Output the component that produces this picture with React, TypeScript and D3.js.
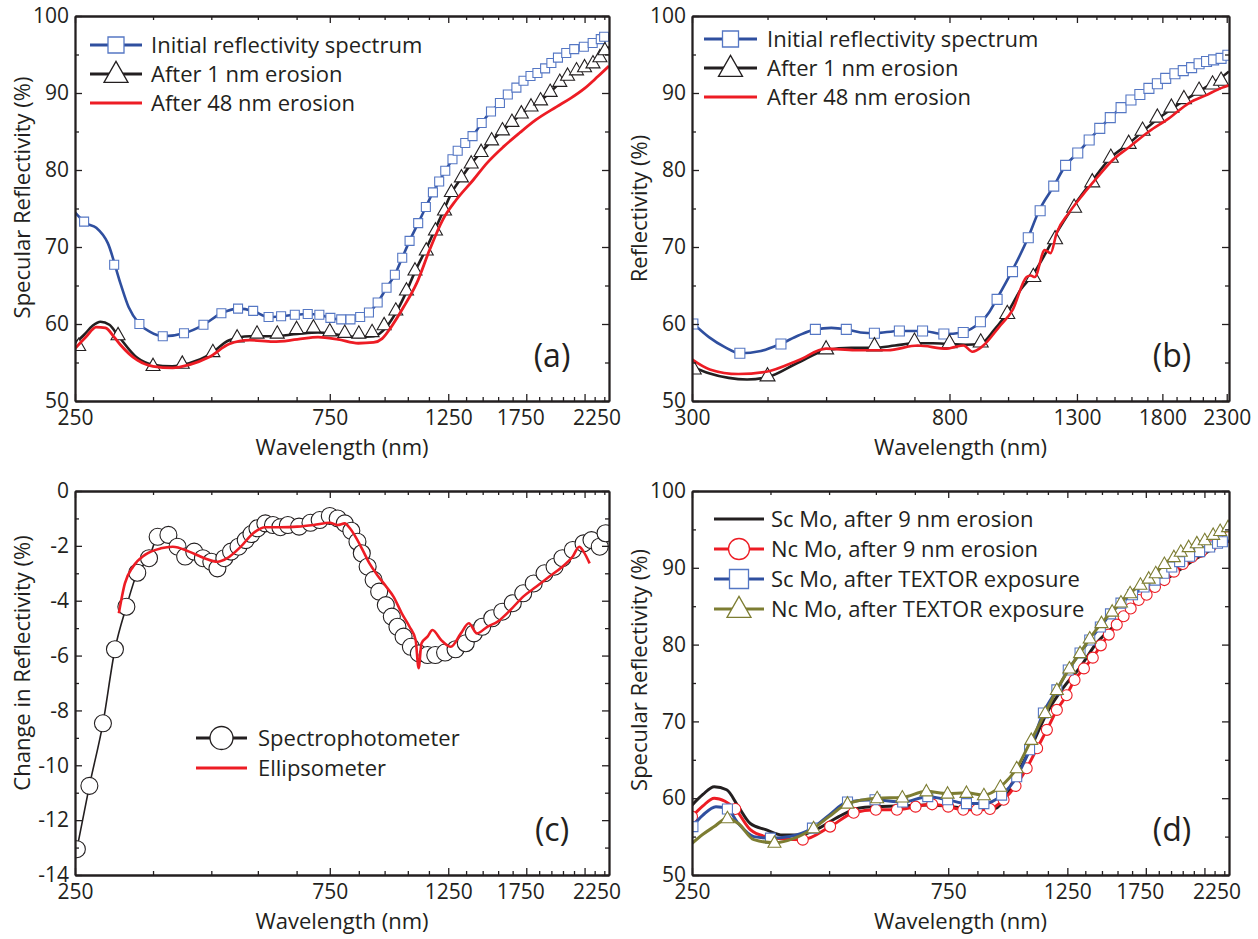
import React, { useEffect, useRef } from 'react';
import * as d3 from 'd3';

type Pt = [number, number];

// ---------- panel (a): specular reflectivity, erosion ----------
const aInitLine: Pt[] = [
  [250, 74.5], [262, 73.1], [274, 72.5], [288, 70.5], [304, 65.3], [315, 62.2], [330, 60.0], [345, 59.0],
  [365, 58.4], [400, 58.8], [435, 59.9], [470, 61.4], [505, 62.0], [539, 61.7], [576, 60.9], [608, 61.0],
  [645, 61.2], [682, 61.3], [717, 61.2], [752, 60.8], [788, 60.6], [820, 60.6], [855, 60.9], [888, 61.5],
  [922, 62.8], [958, 64.7], [993, 66.4], [1025, 68.6], [1058, 70.8], [1098, 73.1], [1135, 75.2], [1170, 77.1],
  [1202, 78.5], [1234, 79.9], [1273, 81.4], [1302, 82.5], [1345, 83.5], [1388, 84.4], [1444, 86.1], [1503, 87.6],
  [1562, 88.7], [1616, 89.8], [1677, 90.7], [1729, 91.6], [1782, 92.2], [1836, 92.6], [1898, 93.2], [1950, 93.9],
  [2006, 94.6], [2079, 95.2], [2152, 95.7], [2243, 96.0], [2330, 96.5], [2413, 97.0], [2500, 97.5],
];
const aInitMarks: Pt[] = [
  [260, 73.3], [296, 67.7], [330, 60.0], [365, 58.4], [400, 58.8], [435, 59.9], [470, 61.4], [505, 62.0],
  [539, 61.7], [576, 60.9], [608, 61.0], [645, 61.2], [682, 61.3], [717, 61.2], [752, 60.8], [788, 60.6],
  [820, 60.6], [855, 60.9], [888, 61.5], [922, 62.8], [958, 64.7], [993, 66.4], [1025, 68.6], [1058, 70.8],
  [1098, 73.1], [1135, 75.2], [1170, 77.1], [1202, 78.5], [1234, 79.9], [1273, 81.4], [1302, 82.5], [1345, 83.5],
  [1388, 84.4], [1444, 86.1], [1503, 87.6], [1562, 88.7], [1616, 89.8], [1677, 90.7], [1729, 91.6], [1782, 92.2],
  [1836, 92.6], [1898, 93.2], [1950, 93.9], [2006, 94.6], [2079, 95.2], [2152, 95.7], [2243, 96.0], [2330, 96.5],
  [2413, 97.0], [2448, 97.3],
];
const aErode1Line: Pt[] = [
  [250, 57.5], [260, 58.6], [270, 59.8], [279, 60.3], [290, 59.9], [301, 58.5], [327, 55.6], [350, 54.7],
  [380, 54.5], [409, 54.9], [446, 56.0], [486, 57.9], [531, 58.4], [587, 58.4], [652, 58.7], [713, 58.9],
  [777, 58.6], [848, 58.3], [906, 58.4], [957, 59.6], [1000, 61.6], [1044, 64.2], [1083, 66.8], [1137, 69.8],
  [1183, 72.4], [1230, 75.0], [1267, 77.0], [1323, 79.0], [1380, 80.8], [1440, 82.3], [1507, 83.8], [1579, 85.1],
  [1645, 86.2], [1713, 87.3], [1786, 88.2], [1861, 89.0], [1940, 90.1], [2022, 91.3], [2091, 92.1], [2173, 92.8],
  [2250, 93.3], [2333, 93.9], [2404, 94.7], [2500, 96.0],
];
const aErode1Marks: Pt[] = [
  [254, 57.2], [301, 58.6], [350, 54.6], [397, 54.9], [453, 56.4], [503, 58.3], [548, 58.8], [598, 58.8],
  [650, 59.4], [699, 59.6], [750, 59.1], [800, 58.9], [850, 58.8], [900, 59.0], [948, 59.9], [997, 61.8],
  [1044, 64.4], [1083, 67.0], [1137, 69.6], [1183, 72.2], [1230, 74.8], [1267, 77.2], [1323, 79.1], [1380, 80.9],
  [1440, 82.4], [1507, 83.9], [1579, 85.2], [1645, 86.3], [1713, 87.4], [1786, 88.3], [1861, 89.1], [1940, 90.2],
  [2022, 91.5], [2091, 92.3], [2173, 93.0], [2250, 93.4], [2333, 93.9], [2404, 94.7], [2456, 95.6],
];
const aErode48Line: Pt[] = [
  [250, 56.8], [262, 58.3], [274, 59.6], [285, 59.5], [296, 58.3], [304, 57.3], [327, 55.3], [350, 54.5],
  [381, 54.3], [409, 54.7], [446, 55.7], [486, 57.4], [531, 57.9], [587, 57.7], [652, 58.0], [713, 58.3],
  [777, 58.0], [848, 57.5], [906, 57.6], [940, 58.1], [977, 59.6], [1031, 62.2], [1091, 65.3], [1153, 69.6],
  [1220, 73.5], [1293, 76.1], [1392, 78.7], [1477, 80.9], [1585, 83.0], [1699, 84.8], [1823, 86.5], [1993, 88.2],
  [2117, 89.3], [2250, 90.6], [2379, 92.1], [2500, 93.5],
];

// ---------- panel (b): reflectivity, erosion ----------
const bInitLine: Pt[] = [
  [300, 60.2], [320, 58.3], [340, 57.0], [360, 56.2], [390, 56.5], [420, 57.4], [450, 58.5], [480, 59.3],
  [510, 59.5], [540, 59.3], [570, 58.9], [601, 58.8], [661, 59.1], [722, 59.1], [783, 58.7], [840, 58.9],
  [870, 59.4], [903, 60.3], [930, 61.5], [957, 63.2], [1014, 66.8], [1079, 71.2], [1125, 74.7], [1190, 77.9],
  [1245, 80.6], [1304, 82.2], [1362, 83.9], [1418, 85.4], [1476, 86.8], [1538, 88.1], [1597, 89.1], [1652, 89.8],
  [1710, 90.6], [1766, 91.2], [1823, 91.9], [1888, 92.5], [1949, 92.9], [2012, 93.3], [2070, 93.8], [2130, 94.1],
  [2188, 94.3], [2251, 94.5], [2320, 94.9],
];
const bInitMarks: Pt[] = [
  [301, 60.0], [360, 56.2], [421, 57.4], [480, 59.3], [540, 59.3], [601, 58.8], [661, 59.1], [722, 59.1],
  [783, 58.7], [843, 58.9], [900, 60.3], [959, 63.2], [1017, 66.8], [1080, 71.2], [1130, 74.7], [1190, 77.9],
  [1245, 80.6], [1304, 82.2], [1362, 83.9], [1418, 85.4], [1476, 86.8], [1538, 88.1], [1597, 89.1], [1652, 89.8],
  [1710, 90.6], [1766, 91.2], [1823, 91.9], [1888, 92.5], [1949, 92.9], [2012, 93.3], [2070, 93.8], [2130, 94.1],
  [2188, 94.3], [2251, 94.5], [2310, 94.9],
];
const bErode1Line: Pt[] = [
  [300, 54.5], [320, 53.6], [345, 53.0], [370, 52.8], [400, 53.1], [450, 55.0], [500, 56.6], [550, 56.9],
  [600, 56.9], [650, 57.2], [700, 57.5], [750, 57.5], [800, 57.4], [850, 57.3], [900, 57.4], [950, 59.3],
  [1000, 61.6], [1050, 64.5], [1101, 66.5], [1150, 69.0], [1196, 71.5], [1286, 75.4], [1378, 78.6], [1479, 81.6],
  [1583, 83.4], [1669, 85.0], [1766, 86.6], [1863, 87.9], [1954, 89.0], [2070, 90.2], [2179, 91.3], [2251, 92.0],
  [2320, 92.8],
];
const bErode1Marks: Pt[] = [
  [302, 54.2], [400, 53.3], [500, 56.8], [601, 57.2], [700, 57.8], [800, 57.6], [901, 57.7], [997, 61.4],
  [1101, 66.2], [1196, 71.1], [1286, 75.2], [1378, 78.5], [1479, 81.7], [1583, 83.5], [1669, 85.2], [1766, 86.9],
  [1863, 88.2], [1954, 89.3], [2070, 90.4], [2179, 91.2], [2251, 91.7],
];
const bErode48Line: Pt[] = [
  [300, 55.4], [321, 54.1], [358, 53.5], [398, 53.8], [450, 55.3], [500, 56.8], [558, 56.6], [632, 56.6],
  [709, 57.2], [792, 56.8], [815, 57.0], [844, 57.2], [873, 56.4], [907, 57.1], [966, 59.6], [1017, 61.8],
  [1073, 66.1], [1090, 66.3], [1107, 66.1], [1150, 69.6], [1176, 69.2], [1203, 71.8], [1260, 74.4], [1330, 76.8],
  [1400, 78.9], [1490, 81.3], [1588, 83.0], [1710, 85.0], [1845, 86.7], [1992, 88.7], [2124, 89.7], [2262, 90.7],
  [2320, 91.0],
];

// ---------- panel (c): change in reflectivity ----------
const cSpectro: Pt[] = [
  [252, -13.06], [266, -10.75], [282, -8.47], [297, -5.77], [312, -4.22], [327, -2.98], [344, -2.45], [357, -1.67],
  [374, -1.60], [389, -2.03], [402, -2.39], [418, -2.21], [434, -2.45], [450, -2.58], [462, -2.82], [476, -2.45],
  [490, -2.21], [506, -2.03], [522, -1.79], [535, -1.57], [549, -1.36], [568, -1.18], [587, -1.24], [606, -1.32],
  [626, -1.24], [657, -1.30], [690, -1.16], [718, -1.06], [750, -0.91], [776, -1.00], [800, -1.18], [823, -1.45],
  [845, -1.85], [861, -2.27], [883, -2.76], [906, -3.24], [928, -3.67], [955, -4.16], [980, -4.58], [1004, -4.95],
  [1031, -5.31], [1064, -5.68], [1101, -5.92], [1143, -5.98], [1182, -5.98], [1233, -5.89], [1290, -5.77], [1348, -5.55],
  [1396, -5.19], [1447, -4.95], [1511, -4.64], [1578, -4.40], [1651, -4.09], [1727, -3.73], [1807, -3.37], [1893, -3.00],
  [1977, -2.76], [2045, -2.45], [2139, -2.15], [2240, -1.91], [2318, -1.79], [2402, -2.03], [2463, -1.54],
];
const cEllipso: Pt[] = [
  [302, -4.46], [310, -3.37], [321, -2.76], [338, -2.33], [362, -2.09], [381, -2.03], [409, -2.21], [437, -2.45],
  [462, -2.58], [482, -2.45], [511, -2.03], [539, -1.54], [568, -1.32], [606, -1.32], [652, -1.30], [700, -1.24],
  [750, -1.16], [776, -1.24], [800, -1.18], [818, -1.36], [834, -1.60], [861, -2.09], [890, -2.64], [920, -3.06],
  [957, -3.49], [987, -3.85], [1023, -4.46], [1058, -4.95], [1086, -5.43], [1100, -6.46], [1114, -5.55], [1143, -5.31],
  [1168, -5.07], [1212, -5.43], [1264, -5.68], [1320, -5.19], [1366, -4.82], [1415, -5.19], [1479, -4.95], [1547, -4.76],
  [1634, -4.34], [1727, -3.85], [1826, -3.49], [1933, -3.12], [2044, -2.76], [2138, -2.39], [2199, -2.03], [2240, -2.21],
  [2300, -2.64],
];

// ---------- panel (d): Sc / Nc Mo ----------
const dScErode: Pt[] = [
  [250, 59.1], [262, 60.5], [275, 61.5], [290, 61.1], [305, 58.9], [321, 56.7], [343, 55.9], [369, 55.2],
  [396, 55.2], [431, 56.1], [469, 57.6], [510, 58.7], [556, 58.9], [617, 59.0], [687, 59.1], [762, 58.9],
  [845, 58.5], [920, 58.7], [968, 60.6], [1018, 63.7], [1071, 66.7], [1145, 71.1], [1232, 74.5], [1322, 77.1],
  [1417, 80.2], [1520, 82.3], [1633, 84.7], [1753, 86.7], [1883, 88.2], [2022, 89.7], [2172, 91.2], [2334, 92.5],
  [2500, 94.0],
];
const dNcErodeLine: Pt[] = [
  [250, 57.6], [262, 59.0], [275, 60.0], [288, 59.6], [301, 58.6], [321, 55.9], [343, 55.0], [370, 54.7],
  [402, 54.6], [452, 56.3], [500, 58.1], [550, 58.5], [602, 58.5], [652, 58.9], [700, 59.2], [750, 58.9],
  [800, 58.5], [848, 58.5], [897, 58.6], [951, 59.8], [1001, 61.6], [1050, 63.9], [1098, 66.5], [1145, 68.9],
  [1195, 71.5], [1246, 73.4], [1289, 75.4], [1342, 76.9], [1394, 78.3], [1443, 79.9], [1493, 81.3], [1545, 82.6],
  [1591, 83.7], [1640, 84.7], [1697, 85.8], [1756, 86.5], [1820, 87.5], [1895, 88.4], [1974, 89.5], [2051, 90.5],
  [2132, 91.4], [2219, 92.1], [2312, 92.8], [2405, 93.6], [2500, 94.0],
];
const dNcErodeMarks: Pt[] = [
  [250, 57.6], [301, 58.6], [402, 54.6], [452, 56.3], [500, 58.1], [550, 58.5], [602, 58.5], [652, 58.9],
  [700, 59.2], [750, 58.9], [800, 58.5], [848, 58.5], [897, 58.6], [951, 59.8], [1001, 61.6], [1050, 63.9],
  [1098, 66.5], [1145, 68.9], [1195, 71.5], [1246, 73.4], [1289, 75.4], [1342, 76.9], [1394, 78.3], [1443, 79.9],
  [1493, 81.3], [1545, 82.6], [1591, 83.7], [1640, 84.7], [1697, 85.8], [1756, 86.5], [1820, 87.5], [1895, 88.4],
  [1974, 89.5], [2051, 90.5], [2132, 91.4], [2219, 92.1], [2312, 92.8], [2405, 93.6], [2490, 94.0],
];
const dScTextorLine: Pt[] = [
  [250, 56.3], [262, 57.8], [277, 58.9], [291, 58.6], [305, 56.7], [326, 55.0], [350, 54.8], [380, 55.0],
  [419, 56.1], [450, 57.8], [487, 59.5], [548, 59.8], [617, 59.5], [687, 60.2], [748, 59.8], [811, 59.3],
  [874, 59.3], [943, 60.4], [1006, 62.8], [1063, 66.3], [1128, 71.1], [1195, 74.1], [1255, 76.7], [1320, 78.9],
  [1376, 80.6], [1440, 82.3], [1504, 84.0], [1573, 85.4], [1653, 86.5], [1737, 87.5], [1820, 88.4], [1892, 89.3],
  [1956, 90.1], [2023, 90.8], [2112, 91.5], [2204, 92.1], [2301, 92.7], [2380, 93.2], [2500, 93.5],
];
const dScTextorMarks: Pt[] = [
  [251, 56.3], [291, 58.6], [350, 54.8], [419, 56.1], [487, 59.5], [548, 59.8], [617, 59.5], [687, 60.2],
  [748, 59.8], [811, 59.3], [874, 59.3], [943, 60.4], [1006, 62.8], [1063, 66.3], [1128, 71.1], [1195, 74.1],
  [1255, 76.7], [1320, 78.9], [1376, 80.6], [1440, 82.3], [1504, 84.0], [1573, 85.4], [1653, 86.5], [1737, 87.5],
  [1820, 88.4], [1892, 89.3], [1956, 90.1], [2023, 90.8], [2112, 91.5], [2204, 92.1], [2301, 92.7], [2380, 93.2],
  [2430, 93.4],
];
const dNcTextorLine: Pt[] = [
  [250, 54.1], [262, 55.3], [275, 56.3], [291, 57.4], [305, 56.7], [326, 54.6], [356, 54.2], [388, 54.8],
  [421, 56.1], [450, 57.6], [487, 59.3], [553, 60.0], [616, 60.1], [683, 60.9], [748, 60.6], [811, 60.7],
  [874, 60.4], [938, 61.5], [1006, 63.9], [1071, 67.6], [1137, 71.1], [1195, 74.1], [1261, 76.9], [1320, 78.9],
  [1376, 80.8], [1447, 82.8], [1515, 84.3], [1573, 85.5], [1636, 86.7], [1710, 87.8], [1772, 88.6], [1826, 89.3],
  [1895, 90.5], [1974, 91.4], [2033, 92.1], [2103, 92.7], [2178, 93.2], [2253, 93.6], [2336, 94.3], [2407, 94.8],
  [2500, 95.3],
];
const dNcTextorMarks: Pt[] = [
  [291, 57.4], [356, 54.2], [421, 56.1], [487, 59.3], [553, 60.0], [616, 60.1], [683, 60.9], [748, 60.6],
  [811, 60.7], [874, 60.4], [938, 61.5], [1006, 63.9], [1071, 67.6], [1137, 71.1], [1195, 74.1], [1261, 76.9],
  [1320, 78.9], [1376, 80.8], [1447, 82.8], [1515, 84.3], [1573, 85.5], [1636, 86.7], [1710, 87.8], [1772, 88.6],
  [1826, 89.3], [1895, 90.5], [1974, 91.4], [2033, 92.1], [2103, 92.7], [2178, 93.2], [2253, 93.6], [2336, 94.3],
  [2407, 94.8], [2490, 95.3],
];

// ---------- ticks ----------
const wlLabels = [250, 750, 1250, 1750, 2250];
const wlMinor = d3.range(350, 2500, 100).filter((d) => !wlLabels.includes(d));
const wlLabelsB = [300, 800, 1300, 1800, 2300];
const wlMinorB = d3.range(400, 2300, 100).filter((d) => !wlLabelsB.includes(d));
const reflLabels = [50, 60, 70, 80, 90, 100];
const reflMinor = [55, 65, 75, 85, 95];
const changeLabels = [-14, -12, -10, -8, -6, -4, -2, 0];
const changeMinor = [-13, -11, -9, -7, -5, -3, -1];

const legendAB = ['Initial reflectivity spectrum', 'After 1 nm erosion', 'After 48 nm erosion'];
const legendC = ['Spectrophotometer', 'Ellipsometer'];
const legendD = [
  'Sc Mo, after 9 nm erosion',
  'Nc Mo, after 9 nm erosion',
  'Sc Mo, after TEXTOR exposure',
  'Nc Mo, after TEXTOR exposure',
];

const FONT = '"Open Sans", "Noto Sans", sans-serif';
const INK = '#231f20';
const BLUE = '#2f4f9f';
const BLUE_MK = '#5577c4';
const RED = '#ed1c24';
const OLIVE = '#7d7d32';

type Marker = 'square' | 'triangle' | 'circle' | null;
interface Series {
  line?: Pt[];
  marks?: Pt[];
  color: string;
  width: number;
  marker: Marker;
  markColor?: string;
  size?: number;
}
interface PanelCfg {
  id: string;
  box: { l: number; r: number; t: number; b: number };
  xDomain: [number, number];
  xLabels: number[];
  xMinor: number[];
  yDomain: [number, number];
  yLabels: number[];
  yMinor: number[];
  yTitle: string;
  yTitleShift: number;
  letter: string;
  series: Series[];
  legend: { x0: number; x1: number; tx: number; rows: number[]; names: string[]; marker: Marker[]; colors: string[]; mcolors: string[]; msize: number[] };
}

const shapePath = (type: Marker, s: number) => {
  if (type === 'square') return `M${-s / 2},${-s / 2}h${s}v${s}h${-s}Z`;
  const h = s * 0.88;
  return `M0,${-h * 0.6}L${s / 2},${h * 0.4}L${-s / 2},${h * 0.4}Z`;
};

const drawMarker = (g: any, type: Marker, x: number, y: number, s: number, stroke: string, sw = 1.1) => {
  if (!type) return;
  if (type === 'circle') {
    g.append('circle').attr('cx', x).attr('cy', y).attr('r', s / 2)
      .attr('fill', '#fff').attr('stroke', stroke).attr('stroke-width', sw);
  } else {
    g.append('path').attr('transform', `translate(${x},${y})`).attr('d', shapePath(type, s))
      .attr('fill', '#fff').attr('stroke', stroke).attr('stroke-width', sw);
  }
};

const Panel = ({ cfg }: { cfg: PanelCfg }) => {
  const ref = useRef<SVGGElement>(null);

  useEffect(() => {
    const g = d3.select(ref.current);
    g.selectAll('*').remove();
    const { l, r, t, b } = cfg.box;

    const x = d3.scaleLog().domain(cfg.xDomain).range([l, r]);
    const y = d3.scaleLinear().domain(cfg.yDomain).range([b, t]);
    const line = d3.line<Pt>().x((d) => x(d[0])).y((d) => y(d[1])).curve(d3.curveMonotoneX);

    const clipId = `clip-${cfg.id}`;
    g.append('clipPath').attr('id', clipId)
      .append('rect').attr('x', l).attr('y', t).attr('width', r - l).attr('height', b - t);
    const plot = g.append('g').attr('clip-path', `url(#${clipId})`);

    cfg.series.forEach((s) => {
      if (s.line) {
        plot.append('path').attr('d', line(s.line)).attr('fill', 'none')
          .attr('stroke', s.color).attr('stroke-width', s.width).attr('stroke-linejoin', 'round');
      }
      if (s.marks) {
        s.marks.forEach(([wl, v]) => drawMarker(plot, s.marker, x(wl), y(v), s.size || 10, s.markColor || s.color));
      }
    });

    // axes, ticks pointing inwards on all four sides
    const style = (sel: any) => sel.attr('font-family', FONT).attr('font-size', 21).attr('color', INK)
      .call((s: any) => s.selectAll('line').attr('stroke-width', 1.3))
      .call((s: any) => s.select('.domain').attr('stroke-width', 1.8));

    const bottom = g.append('g').attr('transform', `translate(0,${b})`)
      .call(d3.axisBottom(x).tickValues(cfg.xLabels).tickSize(-7).tickSizeOuter(0).tickPadding(9).tickFormat((d: any) => String(d)));
    style(bottom);
    bottom.selectAll('.tick text').attr('fill', INK)
      .attr('dx', (d: any) => (d === 2250 ? 12 : d === 1750 ? -6 : 0));
    g.append('g').attr('transform', `translate(0,${b})`)
      .call(d3.axisBottom(x).tickValues(cfg.xMinor).tickSize(-4).tickSizeOuter(0).tickFormat(() => ''))
      .call(style);
    g.append('g').attr('transform', `translate(0,${t})`)
      .call(d3.axisTop(x).tickValues(cfg.xLabels).tickSize(-7).tickSizeOuter(0).tickFormat(() => ''))
      .call(style);
    g.append('g').attr('transform', `translate(0,${t})`)
      .call(d3.axisTop(x).tickValues(cfg.xMinor).tickSize(-4).tickSizeOuter(0).tickFormat(() => ''))
      .call(style);

    const left = g.append('g').attr('transform', `translate(${l},0)`)
      .call(d3.axisLeft(y).tickValues(cfg.yLabels).tickSize(-7).tickSizeOuter(0).tickPadding(6).tickFormat((d: any) => String(d)));
    style(left);
    left.selectAll('.tick text').attr('fill', INK);
    g.append('g').attr('transform', `translate(${l},0)`)
      .call(d3.axisLeft(y).tickValues(cfg.yMinor).tickSize(-4).tickSizeOuter(0).tickFormat(() => ''))
      .call(style);
    g.append('g').attr('transform', `translate(${r},0)`)
      .call(d3.axisRight(y).tickValues(cfg.yLabels).tickSize(-7).tickSizeOuter(0).tickFormat(() => ''))
      .call(style);
    g.append('g').attr('transform', `translate(${r},0)`)
      .call(d3.axisRight(y).tickValues(cfg.yMinor).tickSize(-4).tickSizeOuter(0).tickFormat(() => ''))
      .call(style);

    // titles
    g.append('text').attr('x', (l + r) / 2).attr('y', b + 54).attr('text-anchor', 'middle')
      .attr('font-family', FONT).attr('font-size', 22).attr('fill', INK).text('Wavelength (nm)');
    g.append('text').attr('transform', 'rotate(-90)')
      .attr('x', -((t + b) / 2 + cfg.yTitleShift)).attr('y', l - 45).attr('text-anchor', 'middle')
      .attr('font-family', FONT).attr('font-size', 22).attr('fill', INK).text(cfg.yTitle);
    g.append('text').attr('x', r - 57).attr('y', b - 45).attr('dy', '0.35em').attr('text-anchor', 'middle')
      .attr('font-family', FONT).attr('font-size', 32).attr('fill', INK).text(cfg.letter);

    // legend
    const lg = cfg.legend;
    lg.names.forEach((name, i) => {
      const yy = lg.rows[i];
      g.append('line').attr('x1', lg.x0).attr('x2', lg.x1).attr('y1', yy).attr('y2', yy)
        .attr('stroke', lg.colors[i]).attr('stroke-width', 3);
      drawMarker(g, lg.marker[i], (lg.x0 + lg.x1) / 2, yy, lg.msize[i], lg.mcolors[i], 1.3);
      g.append('text').attr('x', lg.tx).attr('y', yy).attr('dy', '0.35em')
        .attr('font-family', FONT).attr('font-size', 22).attr('fill', INK).text(name);
    });
  }, [cfg]);

  return <g ref={ref} />;
};

const panels: PanelCfg[] = [
  {
    id: 'a',
    box: { l: 75, r: 609, t: 16, b: 401 },
    xDomain: [250, 2500], xLabels: wlLabels, xMinor: wlMinor,
    yDomain: [50, 100], yLabels: reflLabels, yMinor: reflMinor,
    yTitle: 'Specular Reflectivity (%)', yTitleShift: -11, letter: '(a)',
    series: [
      { line: aInitLine, marks: aInitMarks, color: BLUE, width: 2.6, marker: 'square', markColor: BLUE_MK, size: 9 },
      { line: aErode1Line, marks: aErode1Marks, color: INK, width: 2.6, marker: 'triangle', size: 14 },
      { line: aErode48Line, color: RED, width: 2.8, marker: null },
    ],
    legend: {
      x0: 90, x1: 142, tx: 151, rows: [45, 74, 103], names: legendAB,
      marker: ['square', 'triangle', null], colors: [BLUE, INK, RED], mcolors: [BLUE_MK, INK, RED], msize: [16, 24, 0],
    },
  },
  {
    id: 'b',
    box: { l: 692, r: 1229, t: 16, b: 401 },
    xDomain: [300, 2320], xLabels: wlLabelsB, xMinor: wlMinorB,
    yDomain: [50, 100], yLabels: reflLabels, yMinor: reflMinor,
    yTitle: 'Reflectivity (%)', yTitleShift: 0, letter: '(b)',
    series: [
      { line: bInitLine, marks: bInitMarks, color: BLUE, width: 2.6, marker: 'square', markColor: BLUE_MK, size: 10 },
      { line: bErode1Line, marks: bErode1Marks, color: INK, width: 2.6, marker: 'triangle', size: 15 },
      { line: bErode48Line, color: RED, width: 2.6, marker: null },
    ],
    legend: {
      x0: 704, x1: 757, tx: 767, rows: [39, 68, 97], names: legendAB,
      marker: ['square', 'triangle', null], colors: [BLUE, INK, RED], mcolors: [BLUE_MK, INK, RED], msize: [16, 24, 0],
    },
  },
  {
    id: 'c',
    box: { l: 75, r: 609, t: 491, b: 875 },
    xDomain: [250, 2500], xLabels: wlLabels, xMinor: wlMinor,
    yDomain: [-14, 0], yLabels: changeLabels, yMinor: changeMinor,
    yTitle: 'Change in Reflectivity (%)', yTitleShift: -20, letter: '(c)',
    series: [
      { line: cSpectro, marks: cSpectro, color: INK, width: 1.6, marker: 'circle', size: 17 },
      { line: cEllipso, color: RED, width: 2.6, marker: null },
    ],
    legend: {
      x0: 196, x1: 247, tx: 258, rows: [738, 768], names: legendC,
      marker: ['circle', null], colors: [INK, RED], mcolors: [INK, RED], msize: [23, 0],
    },
  },
  {
    id: 'd',
    box: { l: 692, r: 1229, t: 491, b: 875 },
    xDomain: [250, 2500], xLabels: wlLabels, xMinor: wlMinor,
    yDomain: [50, 100], yLabels: reflLabels, yMinor: reflMinor,
    yTitle: 'Specular Reflectivity (%)', yTitleShift: -13, letter: '(d)',
    series: [
      { line: dScErode, color: INK, width: 3, marker: null },
      { line: dNcErodeLine, marks: dNcErodeMarks, color: RED, width: 3, marker: 'circle', size: 11 },
      { line: dScTextorLine, marks: dScTextorMarks, color: BLUE, width: 3, marker: 'square', markColor: BLUE_MK, size: 10 },
      { line: dNcTextorLine, marks: dNcTextorMarks, color: OLIVE, width: 3, marker: 'triangle', size: 13 },
    ],
    legend: {
      x0: 714, x1: 764, tx: 771, rows: [519, 549, 579, 609], names: legendD,
      marker: [null, 'circle', 'square', 'triangle'], colors: [INK, RED, BLUE, OLIVE],
      mcolors: [INK, RED, BLUE_MK, OLIVE], msize: [0, 21, 19, 24],
    },
  },
];

const App = () => (
  <svg width={1258} height={939} style={{ position: 'absolute', left: 0, top: 0, background: '#fff' }}>
    {panels.map((p) => <Panel key={p.id} cfg={p} />)}
  </svg>
);

export default App;
